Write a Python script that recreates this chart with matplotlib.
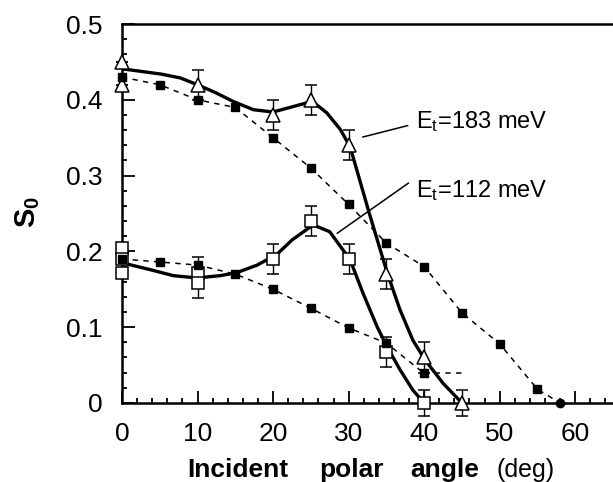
import matplotlib
matplotlib.use("Agg")
import matplotlib.pyplot as plt
from matplotlib.ticker import MultipleLocator, FixedLocator

plt.rcParams["font.family"] = ["Liberation Sans", "DejaVu Sans"]
plt.rcParams["mathtext.default"] = "regular"

# =========================
# DATA
# =========================
# filled squares, upper dashed series
ang_ref_hi = [0, 5, 10, 15, 20, 25, 30, 35, 40, 45, 50, 55]
s_ref_hi = [0.43, 0.42, 0.40, 0.39, 0.35, 0.31, 0.262, 0.211, 0.18, 0.119, 0.078, 0.018]
ang_ref_hi_end = [58]
s_ref_hi_end = [0.0]

# filled squares, lower dashed series (line runs on flat to 45 deg)
ang_ref_lo = [0, 5, 10, 15, 20, 25, 30, 35, 40]
s_ref_lo = [0.19, 0.186, 0.182, 0.17, 0.15, 0.125, 0.099, 0.079, 0.039]
ang_ref_lo_tail = [40, 45]
s_ref_lo_tail = [0.039, 0.039]

# open triangles, Et = 183 meV
ang_183 = [0, 0, 10, 20, 25, 30, 35, 40, 45]
s_183 = [0.45, 0.42, 0.42, 0.38, 0.40, 0.34, 0.17, 0.06, 0.0]
err_183 = [0, 0, 0.02, 0.02, 0.02, 0.02, 0.02, 0.02, 0.017]

# open squares, Et = 112 meV
ang_112 = [0, 0, 0, 10, 10, 20, 25, 30, 35, 40]
s_112 = [0.205, 0.19, 0.172, 0.172, 0.158, 0.19, 0.24, 0.19, 0.067, 0.0]
err_112 = [0.005, 0, 0, 0.02, 0.02, 0.02, 0.02, 0.02, 0.02, 0.017]

# solid fit curves
ang_fit_183 = [0, 5.2, 7.7, 10, 12.5, 14.7, 17.4, 20, 22.6, 25.2, 27.1, 28.9,
               30.2, 31.3, 32.6, 33.8, 35.1, 36.8, 38.5, 40.1, 42.5, 45]
fit_183 = [0.441, 0.434, 0.429, 0.42, 0.409, 0.398, 0.387, 0.384, 0.391, 0.398,
           0.383, 0.361, 0.338, 0.30, 0.255, 0.215, 0.172, 0.123, 0.083, 0.057,
           0.026, 0.0]
ang_fit_112 = [0, 3.7, 6.8, 9.9, 13, 15.2, 17.9, 20.5, 22.5, 25.3, 27.5, 30.2,
               31.9, 33.8, 35.1, 36.8, 38.5, 40]
fit_112 = [0.185, 0.176, 0.168, 0.165, 0.168, 0.172, 0.182, 0.196, 0.215, 0.235,
           0.226, 0.189, 0.145, 0.10, 0.074, 0.044, 0.017, 0.0]

x_ticks = [0, 10, 20, 30, 40, 50, 60]
y_ticks = [0, 0.1, 0.2, 0.3, 0.4, 0.5]
y_tick_labels = ["0", "0.1", "0.2", "0.3", "0.4", "0.5"]


def unclip(container):
    for child in container.get_children():
        child.set_clip_on(False)


# =========================
# PLOT
# =========================
fig = plt.figure(figsize=(6.13, 4.82), dpi=100)
ax = fig.add_axes([0.199, 0.164, 0.801, 0.786])

dash = (0, (3.5, 3.5))
ax.plot(ang_ref_hi + ang_ref_hi_end, s_ref_hi + s_ref_hi_end, color="black",
        lw=1.1, ls=dash, zorder=2)
ax.plot(ang_ref_lo, s_ref_lo, color="black", lw=1.1, ls=dash, zorder=2)
ax.plot(ang_ref_lo_tail, s_ref_lo_tail, color="black", lw=1.1, ls=dash, zorder=2)

ax.plot(ang_fit_183, fit_183, color="black", lw=2.4, zorder=3,
        solid_joinstyle="round")
ax.plot(ang_fit_112, fit_112, color="black", lw=2.4, zorder=3,
        solid_joinstyle="round")

eb = ax.errorbar(ang_183, s_183, yerr=err_183, fmt="^", ms=10, mfc="white",
                 mec="black", mew=1.1, ecolor="black", elinewidth=1.0,
                 capsize=4, capthick=1.0, zorder=4)
unclip(eb)
eb = ax.errorbar(ang_112, s_112, yerr=err_112, fmt="s", ms=9, mfc="white",
                 mec="black", mew=1.1, ecolor="black", elinewidth=1.0,
                 capsize=4, capthick=1.0, zorder=4)
unclip(eb)

ax.plot(ang_ref_hi, s_ref_hi, ls="none", marker="s", ms=6, color="black",
        zorder=5, clip_on=False)
ax.plot(ang_ref_hi_end, s_ref_hi_end, ls="none", marker="o", ms=6, color="black",
        zorder=5, clip_on=False)
ax.plot(ang_ref_lo, s_ref_lo, ls="none", marker="s", ms=6, color="black",
        zorder=5, clip_on=False)

# labels with leader lines
ax.plot([31.9, 37.8], [0.351, 0.366], color="black", lw=1.1)
ax.plot([28.5, 37.9], [0.224, 0.290], color="black", lw=1.1)
ax.text(38.9, 0.363, "E$_t$=183 meV", fontsize=17, va="baseline", ha="left")
ax.text(38.9, 0.272, "E$_t$=112 meV", fontsize=17, va="baseline", ha="left")

ax.set_xlim(0, 65)
ax.set_ylim(0, 0.5)
ax.xaxis.set_major_locator(FixedLocator(x_ticks))
ax.xaxis.set_minor_locator(MultipleLocator(2))
ax.yaxis.set_major_locator(FixedLocator(y_ticks))
ax.yaxis.set_minor_locator(MultipleLocator(0.02))
ax.set_yticklabels(y_tick_labels)

ax.tick_params(which="both", direction="in", top=False, right=False,
               labelsize=19, width=1.3)
ax.tick_params(which="major", length=9, pad=14)
ax.tick_params(which="minor", length=3.5)

ax.spines["right"].set_visible(False)
for side in ["left", "bottom", "top"]:
    ax.spines[side].set_linewidth(1.8)

# axis titles
fig.text(0.045, 0.56, "S$_0$", rotation=90, fontsize=21, fontweight="bold",
         ha="center", va="center")
y_base = 1 - 477 / 482
fig.text(187 / 613, y_base, "Incident", fontsize=19, fontweight="bold", va="baseline")
fig.text(319 / 613, y_base, "polar", fontsize=19, fontweight="bold", va="baseline")
fig.text(410 / 613, y_base, "angle", fontsize=19, fontweight="bold", va="baseline")
fig.text(497 / 613, y_base, "(deg)", fontsize=18, va="baseline")

fig.savefig("out.png", dpi=100)
